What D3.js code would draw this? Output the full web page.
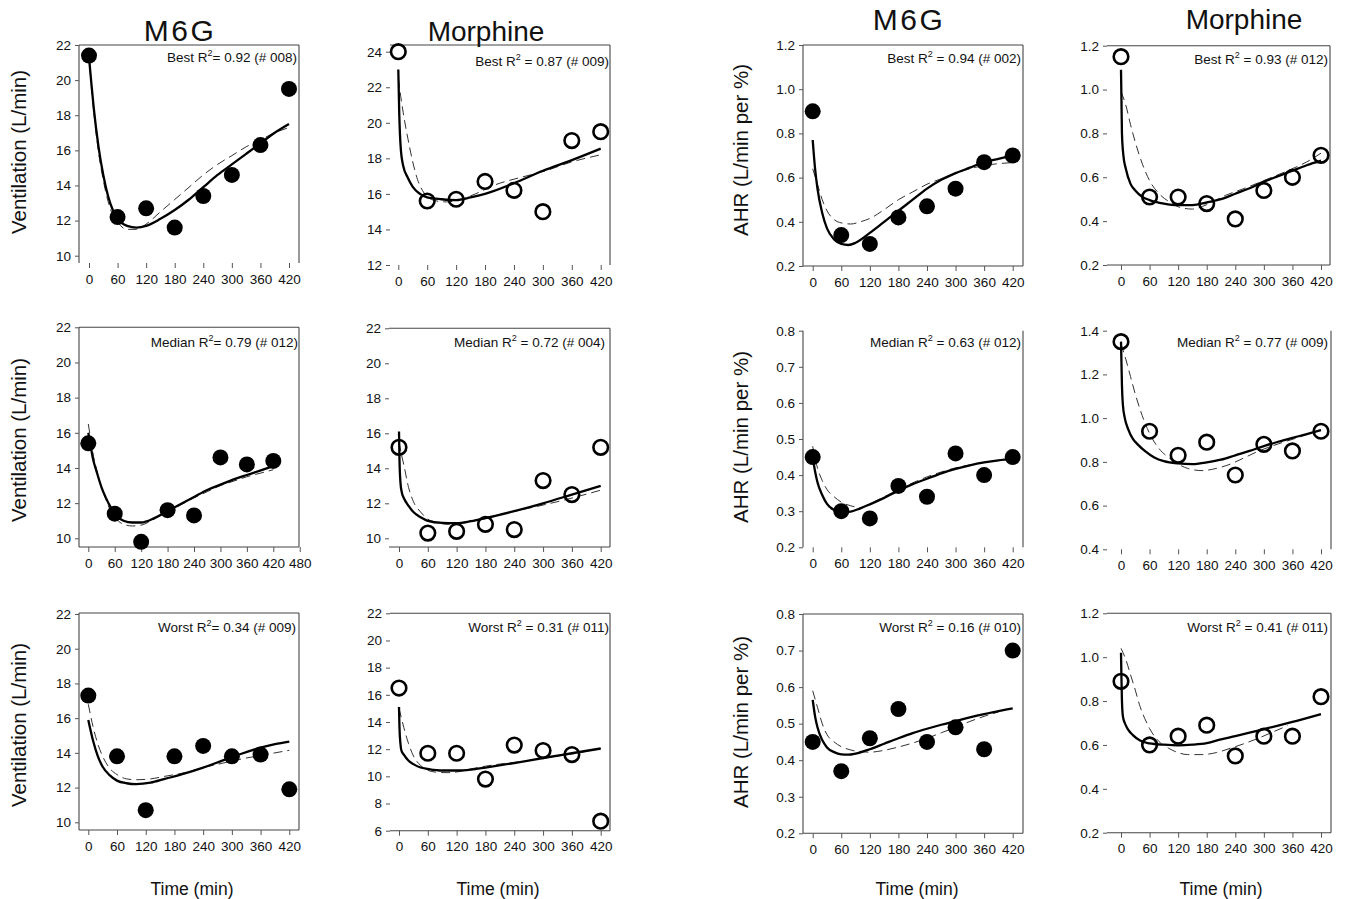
<!DOCTYPE html>
<html><head><meta charset="utf-8">
<script src="https://cdn.jsdelivr.net/npm/d3@7"></script>
<style>body{margin:0;background:#fff} svg{display:block} text{font-family:"Liberation Sans",Arial,sans-serif;fill:#111}</style>
</head><body><svg id="c" width="1347" height="899"></svg>
<script>
// ---------- DATA ----------
const times = [0, 60, 120, 180, 240, 300, 360, 420];
const xTicksStd = [0, 60, 120, 180, 240, 300, 360, 420];
const xTicksWide = [0, 60, 120, 180, 240, 300, 360, 420, 480];

const columnTitles = ["M6G", "Morphine", "M6G", "Morphine"];
const yTitles = ["Ventilation (L/min)", "AHR (L/min per %)"];
const xTitle = "Time (min)";
const rankLabels = ["Best", "Median", "Worst"];

// observed values (filled = M6G, open = Morphine)
const obsVentM6GBest = [21.4, 12.2, 12.7, 11.6, 13.4, 14.6, 16.3, 19.5];
const obsVentMorBest = [24.0, 15.6, 15.7, 16.7, 16.2, 15.0, 19.0, 19.5];
const obsAhrM6GBest = [0.90, 0.34, 0.30, 0.42, 0.47, 0.55, 0.67, 0.70];
const obsAhrMorBest = [1.15, 0.51, 0.51, 0.48, 0.41, 0.54, 0.60, 0.70];
const obsVentM6GMed = [15.4, 11.4, 9.8, 11.6, 11.3, 14.6, 14.2, 14.4];
const obsVentMorMed = [15.2, 10.3, 10.4, 10.8, 10.5, 13.3, 12.5, 15.2];
const obsAhrM6GMed = [0.45, 0.30, 0.28, 0.37, 0.34, 0.46, 0.40, 0.45];
const obsAhrMorMed = [1.35, 0.94, 0.83, 0.89, 0.74, 0.88, 0.85, 0.94];
const obsVentM6GWorst = [17.3, 13.8, 10.7, 13.8, 14.4, 13.8, 13.9, 11.9];
const obsVentMorWorst = [16.5, 11.7, 11.7, 9.8, 12.3, 11.9, 11.6, 6.7];
const obsAhrM6GWorst = [0.45, 0.37, 0.46, 0.54, 0.45, 0.49, 0.43, 0.70];
const obsAhrMorWorst = [0.89, 0.60, 0.64, 0.69, 0.55, 0.64, 0.64, 0.82];

// R2 and subject ids
const r2Values = ["0.92", "0.87", "0.94", "0.93", "0.79", "0.72", "0.63", "0.77", "0.34", "0.31", "0.16", "0.41"];
const subjectIds = ["008", "009", "002", "012", "012", "004", "012", "009", "009", "011", "010", "011"];

// fitted curves [time, value]: solid = model fit, dashed = alternative fit
const fitVentM6GBestSolid = [[0,21.3],[5,19.8],[10,18.4],[20,16.2],[30,14.6],[40,13.4],[50,12.6],[60,12.1],[80,11.7],[100,11.6],[120,11.7],[150,12.1],[180,12.6],[210,13.2],[240,13.9],[270,14.6],[300,15.2],[330,15.8],[360,16.4],[390,17.0],[420,17.5]];
const fitVentM6GBestDash = [[0,21.3],[10,18.2],[20,15.9],[30,14.3],[40,13.1],[50,12.3],[60,11.9],[80,11.5],[100,11.5],[120,11.8],[150,12.5],[180,13.2],[210,13.9],[240,14.6],[270,15.2],[300,15.7],[330,16.2],[360,16.6],[390,17.0],[420,17.3]];
const fitVentMorBestSolid = [[0,23.0],[2,20.5],[5,18.6],[10,17.6],[20,16.9],[30,16.4],[45,16.0],[60,15.8],[90,15.7],[120,15.65],[150,15.8],[180,16.0],[240,16.6],[300,17.3],[360,17.9],[420,18.55]];
const fitVentMorBestDash = [[0,22.5],[5,21.5],[10,20.6],[20,19.1],[30,17.8],[40,16.8],[50,16.2],[60,15.85],[80,15.6],[100,15.55],[130,15.7],[160,16.0],[200,16.5],[250,16.9],[300,17.25],[360,17.8],[420,18.2]];
const fitAhrM6GBestSolid = [[0,0.77],[5,0.64],[10,0.55],[20,0.44],[30,0.37],[45,0.32],[60,0.30],[75,0.295],[90,0.305],[120,0.35],[150,0.40],[180,0.45],[210,0.50],[240,0.55],[270,0.59],[300,0.62],[330,0.645],[360,0.67],[390,0.685],[420,0.70]];
const fitAhrM6GBestDash = [[0,0.64],[10,0.57],[20,0.50],[30,0.45],[45,0.41],[60,0.395],[80,0.39],[100,0.40],[120,0.415],[150,0.455],[180,0.50],[210,0.535],[240,0.57],[270,0.595],[300,0.62],[330,0.64],[360,0.655],[390,0.663],[420,0.668]];
const fitAhrMorBestSolid = [[0,1.09],[1,0.95],[2,0.80],[5,0.70],[10,0.64],[20,0.57],[30,0.54],[45,0.51],[60,0.496],[90,0.48],[120,0.473],[150,0.473],[180,0.485],[210,0.50],[240,0.525],[270,0.55],[300,0.58],[330,0.605],[360,0.63],[390,0.655],[420,0.676]];
const fitAhrMorBestDash = [[0,0.99],[10,0.93],[20,0.84],[30,0.76],[45,0.66],[60,0.585],[80,0.525],[100,0.49],[125,0.462],[150,0.455],[180,0.475],[220,0.518],[260,0.55],[300,0.585],[350,0.63],[390,0.67],[420,0.71]];
const fitVentM6GMedSolid = [[0,16.0],[5,15.3],[10,14.6],[20,13.7],[30,12.9],[40,12.3],[50,11.8],[60,11.4],[80,11.0],[100,10.9],[120,10.9],[150,11.15],[180,11.55],[210,11.95],[240,12.35],[270,12.75],[300,13.05],[330,13.35],[360,13.6],[390,13.85],[420,14.1]];
const fitVentM6GMedDash = [[0,16.5],[5,15.7],[10,14.9],[20,13.8],[30,12.9],[40,12.2],[50,11.6],[60,11.2],[80,10.8],[100,10.7],[120,10.75],[150,11.1],[180,11.5],[210,11.9],[240,12.3],[270,12.65],[300,13.0],[330,13.25],[360,13.5],[390,13.7],[420,13.9]];
const fitVentMorMedSolid = [[0,16.1],[1,14.5],[3,13.2],[6,12.6],[10,12.3],[20,11.85],[30,11.5],[45,11.2],[60,11.0],[90,10.88],[120,10.86],[150,10.98],[180,11.15],[240,11.55],[300,12.0],[360,12.5],[420,13.0]];
const fitVentMorMedDash = [[0,15.5],[5,14.8],[10,14.2],[20,12.9],[30,12.1],[45,11.5],[60,11.1],[80,10.9],[100,10.8],[130,10.88],[160,11.05],[200,11.3],[250,11.6],[300,11.9],[360,12.3],[420,12.75]];
const fitAhrM6GMedSolid = [[0,0.45],[5,0.41],[10,0.38],[20,0.345],[30,0.32],[45,0.303],[60,0.297],[80,0.299],[100,0.308],[120,0.319],[150,0.337],[180,0.357],[210,0.375],[240,0.39],[270,0.405],[300,0.417],[330,0.427],[360,0.435],[390,0.441],[420,0.445]];
const fitAhrM6GMedDash = [[0,0.48],[10,0.42],[20,0.385],[30,0.36],[45,0.34],[60,0.325],[80,0.315],[100,0.31],[120,0.32],[150,0.34],[180,0.36],[240,0.395],[300,0.42],[360,0.435],[420,0.446]];
const fitAhrMorMedSolid = [[0,1.35],[1,1.25],[2,1.15],[4,1.06],[8,1.0],[15,0.95],[25,0.905],[35,0.88],[50,0.85],[70,0.82],[90,0.803],[120,0.793],[150,0.79],[180,0.798],[210,0.81],[240,0.83],[270,0.85],[300,0.872],[330,0.892],[360,0.91],[390,0.927],[420,0.945]];
const fitAhrMorMedDash = [[0,1.34],[10,1.27],[20,1.19],[30,1.11],[40,1.04],[50,0.98],[60,0.93],[80,0.86],[100,0.82],[120,0.79],[140,0.77],[170,0.76],[200,0.77],[230,0.79],[260,0.82],[290,0.85],[330,0.882],[370,0.91],[420,0.946]];
const fitVentM6GWorstSolid = [[0,15.9],[10,14.7],[20,13.8],[30,13.2],[45,12.7],[60,12.4],[80,12.25],[100,12.2],[130,12.28],[160,12.5],[200,12.8],[240,13.15],[280,13.55],[320,13.95],[360,14.3],[390,14.5],[420,14.65]];
const fitVentM6GWorstDash = [[0,16.8],[10,15.5],[20,14.5],[30,13.8],[45,13.1],[60,12.75],[80,12.5],[100,12.45],[130,12.5],[160,12.65],[200,12.85],[240,13.15],[280,13.4],[320,13.65],[360,13.85],[390,14.0],[420,14.15]];
const fitVentMorWorstSolid = [[0,15.1],[1,13.6],[3,12.4],[5,11.9],[10,11.6],[20,11.15],[30,10.9],[45,10.65],[60,10.55],[90,10.43],[120,10.43],[150,10.5],[180,10.65],[240,10.98],[300,11.35],[360,11.7],[420,12.05]];
const fitVentMorWorstDash = [[0,15.0],[5,14.3],[10,13.6],[20,12.4],[30,11.5],[45,10.8],[60,10.45],[80,10.3],[100,10.27],[120,10.32],[150,10.55],[180,10.75],[220,10.95],[260,11.12],[300,11.35],[360,11.65],[420,12.05]];
const fitAhrM6GWorstSolid = [[0,0.565],[5,0.52],[10,0.49],[20,0.455],[30,0.435],[45,0.422],[60,0.416],[75,0.415],[90,0.418],[120,0.43],[150,0.445],[180,0.46],[210,0.474],[240,0.486],[270,0.497],[300,0.507],[330,0.517],[360,0.526],[390,0.534],[420,0.542]];
const fitAhrM6GWorstDash = [[0,0.59],[10,0.545],[20,0.50],[30,0.47],[45,0.45],[60,0.437],[80,0.428],[100,0.423],[120,0.422],[150,0.427],[180,0.436],[210,0.447],[240,0.46],[270,0.475],[300,0.49],[330,0.506],[360,0.52],[390,0.532]];
const fitAhrMorWorstSolid = [[0,1.02],[1,0.9],[2,0.8],[4,0.73],[8,0.70],[15,0.67],[25,0.645],[40,0.62],[60,0.607],[90,0.601],[120,0.598],[150,0.601],[180,0.608],[210,0.625],[240,0.64],[270,0.656],[300,0.672],[330,0.688],[360,0.705],[390,0.722],[420,0.74]];
const fitAhrMorWorstDash = [[0,1.04],[10,0.99],[20,0.92],[30,0.85],[40,0.775],[50,0.72],[60,0.675],[80,0.615],[100,0.585],[120,0.565],[140,0.556],[170,0.556],[200,0.565],[230,0.585],[260,0.607],[290,0.632],[320,0.66],[350,0.688]];

// y tick values
const yTicksVent = [10, 12, 14, 16, 18, 20, 22];
const yTicksVentMorBest = [12, 14, 16, 18, 20, 22, 24];
const yTicksVentMorWorst = [6, 8, 10, 12, 14, 16, 18, 20, 22];
const yTicksAhr12 = [0.2, 0.4, 0.6, 0.8, 1.0, 1.2];
const yTicksAhr08 = [0.2, 0.3, 0.4, 0.5, 0.6, 0.7, 0.8];
const yTicksAhr14 = [0.4, 0.6, 0.8, 1.0, 1.2, 1.4];

// ---------- LAYOUT (pixels) ----------
const panels = [
  {obs:obsVentM6GBest, solid:fitVentM6GBestSolid, dash:fitVentM6GBestDash, filled:true, yTicks:yTicksVent, fmt:"d", xt:xTicksStd,
   x0:89, x420:289, yA:10, pyA:255.7, yB:22, pyB:45, L:79, R:299, T:45, B:263, lines:[1,1,1,0], ann:[297,62], eq:"", rank:0},
  {obs:obsVentMorBest, solid:fitVentMorBestSolid, dash:fitVentMorBestDash, filled:false, yTicks:yTicksVentMorBest, fmt:"d", xt:xTicksStd,
   x0:398.3, x420:600.7, yA:12, pyA:265, yB:24, pyB:51.7, L:390, R:610, T:45, B:265, lines:[0,1,1,0], ann:[609,66], eq:" ", rank:0},
  {obs:obsAhrM6GBest, solid:fitAhrM6GBestSolid, dash:fitAhrM6GBestDash, filled:true, yTicks:yTicksAhr12, fmt:".1f", xt:xTicksStd,
   x0:812.7, x420:1012.7, yA:0.2, pyA:266, yB:1.2, pyB:45, L:803, R:1023, T:45, B:266, lines:[1,1,1,1], ann:[1021,63], eq:" ", rank:0},
  {obs:obsAhrMorBest, solid:fitAhrMorBestSolid, dash:fitAhrMorBestDash, filled:false, yTicks:yTicksAhr12, fmt:".1f", xt:xTicksStd,
   x0:1121, x420:1321, yA:0.2, pyA:265, yB:1.2, pyB:45.7, L:1107, R:1330, T:45.7, B:265, lines:[0,1,1,1], ann:[1328,64], eq:" ", rank:0},
  {obs:obsVentM6GMed, solid:fitVentM6GMedSolid, dash:fitVentM6GMedDash, filled:true, yTicks:yTicksVent, fmt:"d", xt:xTicksWide,
   x0:88.3, x420:273.3, yA:10, pyA:538.3, yB:22, pyB:327.3, L:79, R:299, T:327.3, B:547, lines:[1,1,1,1], ann:[298,347], eq:"", rank:1},
  {obs:obsVentMorMed, solid:fitVentMorMedSolid, dash:fitVentMorMedDash, filled:false, yTicks:yTicksVent, fmt:"d", xt:xTicksStd,
   x0:399, x420:600.7, yA:10, pyA:538.3, yB:22, pyB:328.3, L:389, R:610, T:328.3, B:547, lines:[0,1,1,1], ann:[605,347], eq:" ", rank:1},
  {obs:obsAhrM6GMed, solid:fitAhrM6GMedSolid, dash:fitAhrM6GMedDash, filled:true, yTicks:yTicksAhr08, fmt:".1f", xt:xTicksStd,
   x0:812.7, x420:1012.7, yA:0.2, pyA:547.3, yB:0.8, pyB:330.7, L:803, R:1023, T:330.7, B:547.3, lines:[1,0,1,0], ann:[1021,347], eq:" ", rank:1},
  {obs:obsAhrMorMed, solid:fitAhrMorMedSolid, dash:fitAhrMorMedDash, filled:false, yTicks:yTicksAhr14, fmt:".1f", xt:xTicksStd,
   x0:1121, x420:1321, yA:0.4, pyA:549.3, yB:1.4, pyB:330.7, L:1107, R:1331, T:330.7, B:549.3, lines:[0,0,1,0], ann:[1328,347], eq:" ", rank:1},
  {obs:obsVentM6GWorst, solid:fitVentM6GWorstSolid, dash:fitVentM6GWorstDash, filled:true, yTicks:yTicksVent, fmt:"d", xt:xTicksStd,
   x0:88.3, x420:289.3, yA:10, pyA:822.3, yB:22, pyB:614, L:79, R:299, T:613, B:830, lines:[1,1,1,1], ann:[296,632], eq:"", rank:2},
  {obs:obsVentMorWorst, solid:fitVentMorWorstSolid, dash:fitVentMorWorstDash, filled:false, yTicks:yTicksVentMorWorst, fmt:"d", xt:xTicksStd,
   x0:399, x420:600.7, yA:6, pyA:830.7, yB:22, pyB:613.3, L:390, R:610, T:613.3, B:830.7, lines:[0,1,1,1], ann:[609,632], eq:" ", rank:2},
  {obs:obsAhrM6GWorst, solid:fitAhrM6GWorstSolid, dash:fitAhrM6GWorstDash, filled:true, yTicks:yTicksAhr08, fmt:".1f", xt:xTicksStd,
   x0:812.7, x420:1012.7, yA:0.2, pyA:833.3, yB:0.8, pyB:614, L:803, R:1023, T:614, B:833.3, lines:[1,1,1,1], ann:[1021,632], eq:" ", rank:2},
  {obs:obsAhrMorWorst, solid:fitAhrMorWorstSolid, dash:fitAhrMorWorstDash, filled:false, yTicks:yTicksAhr12, fmt:".1f", xt:xTicksStd,
   x0:1121, x420:1321, yA:0.2, pyA:832.7, yB:1.2, pyB:613.3, L:1107, R:1331, T:613.3, B:832.7, lines:[0,1,1,1], ann:[1328,632], eq:" ", rank:2}
];

const svg = d3.select("#c");
const frameColor = "#444";

panels.forEach((p, i) => {
  const g = svg.append("g");
  const x = d3.scaleLinear().domain([0, 420]).range([p.x0, p.x420]);
  const y = d3.scaleLinear().domain([p.yA, p.yB]).range([p.pyA, p.pyB]);

  const segs = [[p.L, p.T, p.L, p.B], [p.L, p.T, p.R, p.T], [p.R, p.T, p.R, p.B], [p.L, p.B, p.R, p.B]];
  segs.forEach((s, k) => {
    if (p.lines[k]) g.append("line").attr("x1", s[0]).attr("y1", s[1]).attr("x2", s[2]).attr("y2", s[3])
      .attr("stroke", frameColor).attr("stroke-width", 1.1);
  });

  const ya = g.append("g").attr("transform", `translate(${p.L},0)`)
    .call(d3.axisLeft(y).tickValues(p.yTicks).tickSize(4).tickPadding(4).tickFormat(d3.format(p.fmt)));
  ya.select(".domain").remove();
  const xa = g.append("g").attr("transform", `translate(0,${p.B})`)
    .call(d3.axisBottom(x).tickValues(p.xt).tickSize(5).tickPadding(6));
  xa.select(".domain").remove();
  [ya, xa].forEach(a => {
    a.selectAll("line").attr("stroke", "#555");
    a.selectAll("text").attr("font-size", 13.5).attr("fill", "#111")
      .attr("font-family", '"Liberation Sans",Arial,sans-serif');
  });

  const line = d3.line().x(d => x(d[0])).y(d => y(d[1])).curve(d3.curveMonotoneX);
  g.append("path").attr("d", line(p.dash)).attr("fill", "none").attr("stroke", "#333")
    .attr("stroke-width", 1).attr("stroke-dasharray", "9,5");
  g.append("path").attr("d", line(p.solid)).attr("fill", "none").attr("stroke", "#000")
    .attr("stroke-width", 2.3);

  g.selectAll("circle.pt").data(p.obs).join("circle").attr("class", "pt")
    .attr("cx", (d, j) => x(times[j])).attr("cy", d => y(d))
    .attr("r", p.filled ? 8 : 7.3)
    .attr("fill", p.filled ? "#000" : "none")
    .attr("stroke", "#000").attr("stroke-width", p.filled ? 0 : 2.6);

  const t = g.append("text").attr("x", p.ann[0]).attr("y", p.ann[1]).attr("text-anchor", "end")
    .attr("font-size", 13.5);
  t.append("tspan").text(`${rankLabels[p.rank]} R`);
  t.append("tspan").attr("dy", -6).attr("font-size", 9).text("2");
  t.append("tspan").attr("dy", 6).text(`${p.eq}= ${r2Values[i]} (# ${subjectIds[i]})`);
});

const colTitlePos = [[180, 41], [486, 41], [909, 30], [1244, 29]];
columnTitles.forEach((c, k) => {
  const isM = c === "M6G";
  svg.append("text").attr("x", colTitlePos[k][0]).attr("y", colTitlePos[k][1]).attr("text-anchor", "middle")
    .attr("font-size", isM ? 30 : 28).attr("letter-spacing", isM ? 2.5 : 0).text(c);
});

const yTitlePos = [[26, 152, 0], [26, 440, 0], [26, 725, 0], [748, 150, 1], [748, 437, 1], [748, 722, 1]];
yTitlePos.forEach(pp => {
  svg.append("text").attr("transform", `translate(${pp[0]},${pp[1]}) rotate(-90)`).attr("text-anchor", "middle")
    .attr("font-size", 20.5).text(yTitles[pp[2]]);
});

[192, 498, 917, 1221].forEach(cx => {
  svg.append("text").attr("x", cx).attr("y", 895).attr("text-anchor", "middle").attr("font-size", 17.5).text(xTitle);
});
</script></body></html>
